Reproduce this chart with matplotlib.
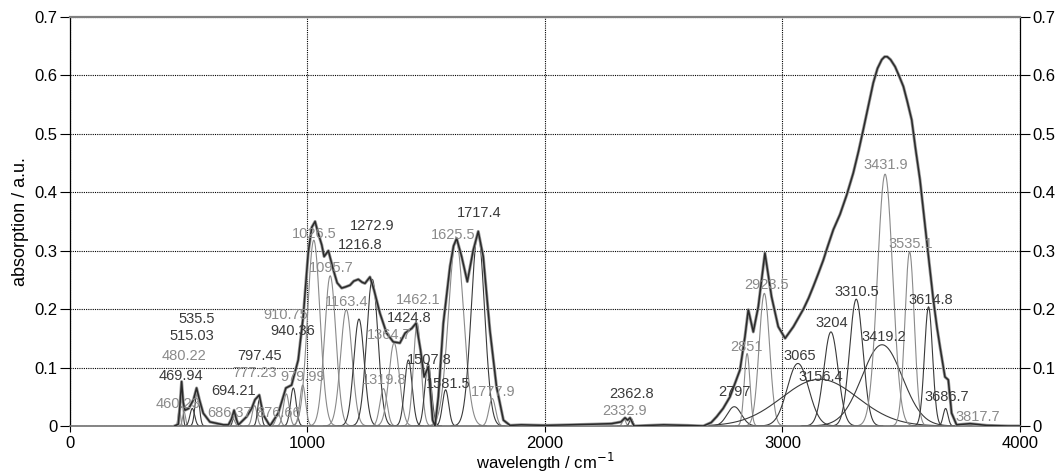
import matplotlib
matplotlib.use("Agg")
import matplotlib.pyplot as plt
import numpy as np

plt.rcParams['font.family'] = ['Liberation Sans', 'DejaVu Sans']

# fitted components: centre (cm-1), height, gaussian sigma, shade
peak_pos = [460.23, 469.94, 480.22, 515.03, 535.5, 686.37, 694.21, 777.23, 797.45,
            876.66, 910.75, 940.36, 979.99, 1026.5, 1095.7, 1163.4, 1216.8, 1272.9,
            1319.8, 1364.7, 1424.8, 1462.1, 1507.8, 1581.5, 1625.5, 1717.4, 1777.9,
            2332.9, 2362.8, 2797, 2851, 2923.5, 3065, 3156.4, 3204, 3310.5, 3419.2,
            3431.9, 3535.1, 3614.8, 3686.7, 3817.7]
peak_labels = ['460.23', '469.94', '480.22', '515.03', '535.5', '686.37', '694.21',
               '777.23', '797.45', '876.66', '910.75', '940.36', '979.99', '1026.5',
               '1095.7', '1163.4', '1216.8', '1272.9', '1319.8', '1364.7', '1424.8',
               '1462.1', '1507.8', '1581.5', '1625.5', '1717.4', '1777.9', '2332.9',
               '2362.8', '2797', '2851', '2923.5', '3065', '3156.4', '3204', '3310.5',
               '3419.2', '3431.9', '3535.1', '3614.8', '3686.7', '3817.7']
peak_height = [0.03, 0.072, 0.025, 0.03, 0.06, 0.012, 0.025, 0.035, 0.045,
               0.02, 0.055, 0.065, 0.07, 0.318, 0.257, 0.199, 0.183, 0.251,
               0.064, 0.142, 0.113, 0.176, 0.107, 0.062, 0.318, 0.33, 0.047,
               0.012, 0.013, 0.033, 0.124, 0.227, 0.107, 0.08, 0.161, 0.217, 0.139,
               0.431, 0.298, 0.204, 0.03, 0.004]
peak_sigma = [5, 5, 6, 10, 9, 8, 7, 10, 8,
              10, 12, 12, 12, 26, 24, 24, 22, 24,
              15, 22, 16, 16, 14, 13, 32, 28, 14,
              7, 7, 30, 12, 22, 45, 160, 30, 28, 85,
              32, 20, 17, 10, 20]
peak_shade = ['g', 'd', 'g', 'd', 'd', 'g', 'd', 'g', 'd',
              'g', 'g', 'd', 'g', 'g', 'g', 'g', 'd', 'd',
              'g', 'g', 'd', 'g', 'd', 'd', 'g', 'd', 'g',
              'g', 'd', 'd', 'g', 'g', 'd', 'd', 'd', 'd', 'd',
              'g', 'g', 'd', 'd', 'g']
# where each label sits
label_x = [456, 467, 480, 515, 533, 674, 690, 779, 800,
           877, 909, 940, 980, 1029, 1098, 1165, 1221, 1274,
           1323, 1345, 1429, 1467, 1512, 1593, 1614, 1723, 1782,
           2334, 2365, 2800, 2849, 2931, 3071, 3161, 3207, 3312, 3425,
           3436, 3540, 3624, 3691, 3824]
label_y = [0.037, 0.086, 0.119, 0.154, 0.183, 0.022, 0.06, 0.09, 0.119,
           0.022, 0.19, 0.163, 0.084, 0.328, 0.271, 0.213, 0.31, 0.342,
           0.079, 0.156, 0.184, 0.216, 0.113, 0.071, 0.327, 0.364, 0.059,
           0.026, 0.054, 0.059, 0.135, 0.241, 0.12, 0.084, 0.177, 0.23, 0.152,
           0.446, 0.311, 0.216, 0.049, 0.016]

# measured spectrum (envelope)
env_wn = [440, 456, 462, 470, 477, 484, 500, 520, 533, 545, 561, 589, 646, 667, 680,
          691, 700, 709, 744, 765, 779, 797, 814, 842, 877, 909, 933, 961, 982, 1003,
          1018, 1032, 1045, 1060, 1070, 1088, 1109, 1125, 1144, 1160, 1179, 1195, 1214,
          1230, 1242, 1263, 1280, 1305, 1333, 1361, 1389, 1411, 1439, 1457, 1476, 1491,
          1509, 1527, 1537, 1551, 1572, 1600, 1615, 1628, 1649, 1673, 1698, 1719, 1740,
          1768, 1796, 1825, 1853, 1900, 2000, 2100, 2200, 2280, 2320, 2337, 2348, 2358,
          2375, 2500, 2600, 2667, 2700, 2723, 2750, 2779, 2821, 2842, 2856, 2877, 2898,
          2926, 2954, 2982, 3011, 3046, 3088, 3110, 3130, 3150, 3172, 3190, 3214, 3242,
          3270, 3298, 3320, 3340, 3360, 3382, 3400, 3418, 3430, 3441, 3455, 3474, 3490,
          3509, 3525, 3544, 3560, 3579, 3590, 3607, 3620, 3635, 3650, 3663, 3684, 3698,
          3712, 3733, 3790, 3860, 3950, 4000]
env_abs = [0.0, 0.003, 0.03, 0.076, 0.04, 0.027, 0.03, 0.045, 0.065, 0.045, 0.022, 0.007,
           0.002, 0.002, 0.012, 0.027, 0.012, 0.002, 0.016, 0.03, 0.045, 0.053, 0.019, 0.0,
           0.022, 0.065, 0.07, 0.113, 0.187, 0.296,
           0.34, 0.35, 0.33, 0.31, 0.29, 0.3, 0.267, 0.245, 0.236, 0.238, 0.241, 0.248, 0.251,
           0.246, 0.244, 0.255, 0.233, 0.193, 0.159, 0.144, 0.142, 0.159, 0.167, 0.176,
           0.13, 0.084, 0.102, 0.01, 0.0, 0.05, 0.176, 0.273, 0.308, 0.321, 0.29, 0.247,
           0.301, 0.333, 0.29, 0.164, 0.067, 0.01, 0.001, 0.002, 0.001, 0.002, 0.003,
           0.004, 0.007, 0.014, 0.01, 0.014, 0.0, 0.002, 0.001, 0.0, 0.006, 0.016, 0.03,
           0.05, 0.096, 0.153, 0.199, 0.161, 0.204, 0.296, 0.221, 0.17, 0.15, 0.17, 0.2,
           0.219, 0.239, 0.26, 0.284, 0.307, 0.336, 0.362, 0.395, 0.433, 0.47, 0.507,
           0.545, 0.587, 0.612, 0.627, 0.632, 0.632, 0.627, 0.615, 0.6, 0.581, 0.556,
           0.524, 0.475, 0.421, 0.38, 0.318, 0.27, 0.216, 0.17, 0.136, 0.084, 0.079,
           0.022, 0.002, 0.004, 0.001, 0.0, 0.0]

shade_col = {'g': '#8a8a8a', 'd': '#3a3a3a'}

fig = plt.figure(figsize=(10.57, 4.73), dpi=100)
ax = fig.add_axes([0.0662, 0.0994, 0.8988, 0.8647])

# components
for c, h, s, sh in zip(peak_pos, peak_height, peak_sigma, peak_shade):
    x = np.linspace(c - 4 * s, c + 4 * s, 200)
    ax.plot(x, h * np.exp(-(x - c) ** 2 / (2 * s ** 2)), color=shade_col[sh], lw=0.8, zorder=2)

# measured envelope
ax.plot(env_wn, env_abs, color='#9a9a9a', lw=2.2, zorder=3)
ax.plot(env_wn, env_abs, color='#2a2a2a', lw=1.1, zorder=4)

for lab, lx, ly, sh in zip(peak_labels, label_x, label_y, peak_shade):
    ax.text(lx, ly, lab, color=shade_col[sh], fontsize=10.5, ha='center', va='center', zorder=5)

ax.set_xlim(0, 4000)
ax.set_ylim(0, 0.7)
ax.set_xticks([0, 1000, 2000, 3000, 4000])
ax.set_yticks([0, 0.1, 0.2, 0.3, 0.4, 0.5, 0.6, 0.7])
ax.set_yticklabels(['0', '0.1', '0.2', '0.3', '0.4', '0.5', '0.6', '0.7'])
ax.tick_params(axis='y', direction='out', length=7, width=0.8, labelsize=12,
               left=True, right=True, labelleft=True, labelright=True, pad=2)
ax.tick_params(axis='x', direction='out', length=4, width=0.8, labelsize=12, pad=3)
ax.grid(True, color='black', linestyle=(0, (1, 1)), linewidth=0.8)
ax.set_axisbelow(True)

ax.spines['top'].set_color('#808080')
ax.spines['top'].set_linewidth(1.6)
ax.spines['bottom'].set_color('#707070')
ax.spines['bottom'].set_linewidth(1.2)
ax.spines['left'].set_linewidth(0.9)
ax.spines['right'].set_linewidth(0.9)

ax.set_xlabel('wavelength / cm$^{-1}$', fontsize=12, labelpad=0)
ax.set_ylabel('absorption / a.u.', fontsize=13, labelpad=4)

fig.savefig('out.png', dpi=100)
